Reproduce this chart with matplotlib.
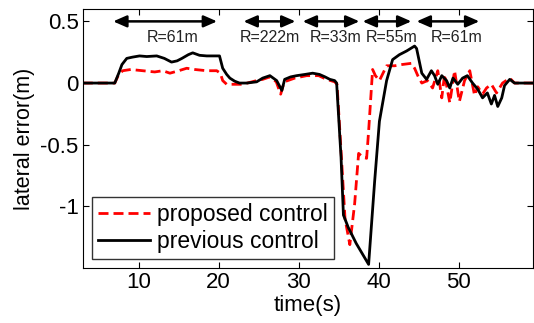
import numpy as np
import matplotlib
matplotlib.use('Agg')
import matplotlib.pyplot as plt

plt.rcParams['font.family'] = ['Liberation Sans', 'DejaVu Sans']

# proposed control (red dashed)
t_prop = [3, 7.0, 7.5, 8.0, 9.0, 10.5, 12.0, 13.0, 13.9, 15.0, 16.0, 17.0, 18.5, 19.75,
          20.2, 20.5, 21.0, 23.0, 24.75, 25.5, 26.4, 27.2, 27.75, 28.2, 29.5, 31.0, 32.5,
          33.5, 34.5, 34.8, 35.3, 35.8, 36.4, 37.0, 37.5, 38.0, 38.5, 38.75, 39.25, 39.6,
          40.1, 41.0, 42.0, 42.9, 44.1, 44.5, 44.9, 45.4, 46.1, 46.75, 47.4, 47.9, 48.25,
          48.9, 49.5, 50.1, 50.75, 51.4, 52.0, 52.4, 53.0, 53.5, 54.1, 54.75, 55.5, 56.4,
          57.0, 59.3]
e_prop = [0, 0, 0.07, 0.1, 0.11, 0.1, 0.09, 0.1, 0.08, 0.1, 0.12, 0.11, 0.1, 0.1,
          0.08, 0.02, -0.01, -0.01, 0.02, 0.03, 0.05, 0.01, -0.09, 0.01, 0.04, 0.06, 0.06,
          0.03, 0.01, -0.01, -0.55, -1.1, -1.31, -0.98, -0.57, -0.6, -0.61, -0.39, 0.11, 0.06,
          0.02, 0.14, 0.14, 0.15, 0.16, 0.12, 0.06, 0.0, 0.02, -0.04, 0.1, -0.12, 0.07,
          -0.16, 0.1, -0.15, 0.02, 0.1, -0.1, -0.03, -0.09, -0.04, -0.01, -0.08, 0.0, 0.04,
          0.0, 0.0]

# previous control (black solid)
t_prev = [3, 7.0, 7.5, 7.9, 8.5, 9.2, 10.1, 11.0, 12.25, 13.2, 14.1, 14.8, 15.4, 16.2,
          16.75, 17.6, 18.5, 19.4, 20.1, 20.5, 21.0, 21.4, 22.0, 22.6, 23.5, 24.75, 25.5,
          26.4, 27.25, 27.9, 28.25, 29.0, 29.75, 30.8, 31.75, 32.6, 33.3, 33.9, 34.5, 34.75,
          35.3, 35.6, 36.2, 37.2, 38.75, 39.5, 40.1, 41.0, 41.75, 42.6, 43.5, 44.5, 44.75,
          45.4, 46.0, 46.6, 47.0, 47.4, 47.9, 48.5, 48.9, 49.3, 49.9, 50.5, 51.1, 51.75,
          52.4, 53.0, 53.6, 54.1, 54.5, 54.9, 55.4, 55.75, 56.4, 57.0, 57.6, 59.3]
e_prev = [0, 0, 0.08, 0.15, 0.2, 0.21, 0.22, 0.215, 0.22, 0.2, 0.17, 0.18, 0.2, 0.23,
          0.245, 0.225, 0.22, 0.22, 0.22, 0.12, 0.07, 0.04, 0.015, 0.0, 0.0, 0.01, 0.04,
          0.06, 0.02, -0.06, 0.03, 0.05, 0.06, 0.07, 0.08, 0.07, 0.05, 0.03, 0.02, 0.0,
          -0.6, -1.07, -1.17, -1.3, -1.47, -0.8, -0.31, 0.02, 0.19, 0.23, 0.26, 0.30, 0.28,
          0.08, 0.03, 0.10, 0.06, -0.01, 0.06, 0.02, -0.04, 0.04, -0.01, 0.04, 0.06, 0.0,
          -0.05, -0.12, -0.08, -0.17, -0.1, -0.19, -0.12, -0.02, 0.03, 0.0, 0.0, 0.0]

# curve sections (double arrows) and radius labels
sec_start = [6.8, 23.1, 30.5, 38.0, 44.75]
sec_end = [19.8, 29.6, 37.6, 44.1, 52.6]
sec_label = ['R=61m', 'R=222m', 'R=33m', 'R=55m', 'R=61m']
label_x = [14.25, 26.4, 34.6, 41.6, 49.75]

fig = plt.figure(figsize=(5.34, 3.23), dpi=100)
ax = fig.add_axes([0.155, 0.170, 0.843, 0.802])

ax.plot(t_prop, e_prop, color='red', lw=2, dashes=(3.6, 1.8), label='proposed control')
ax.plot(t_prev, e_prev, color='black', lw=2, label='previous control')

for s, e in zip(sec_start, sec_end):
    ax.annotate('', xy=(s, 0.5), xytext=(e, 0.5),
                arrowprops=dict(arrowstyle='<|-|>,head_length=0.8,head_width=0.35',
                                color='black', lw=1.8, shrinkA=0, shrinkB=0))
for x, lab in zip(label_x, sec_label):
    ax.text(x, 0.37, lab, ha='center', va='center', fontsize=11.5, color='#222222')

ax.set_xlim(3, 59.3)
ax.set_ylim(-1.5, 0.6)
ax.set_xticks([10, 20, 30, 40, 50])
ax.set_yticks([-1, -0.5, 0, 0.5])
ax.set_yticklabels(['-1', '-0.5', '0', '0.5'])
ax.tick_params(direction='in', top=True, right=True, labelsize=16, length=4, pad=3)
ax.set_xlabel('time(s)', fontsize=16, labelpad=1)
ax.set_ylabel('lateral error(m)', fontsize=15.5, labelpad=4)

leg = ax.legend(loc='lower left', bbox_to_anchor=(0.02, 0.035), fontsize=16.5,
                frameon=True, fancybox=False, edgecolor='black', borderaxespad=0,
                handlelength=2.3, handletextpad=0.3, borderpad=0.25, labelspacing=0.2)
leg.get_frame().set_linewidth(1)

plt.savefig('out.png', dpi=100)
